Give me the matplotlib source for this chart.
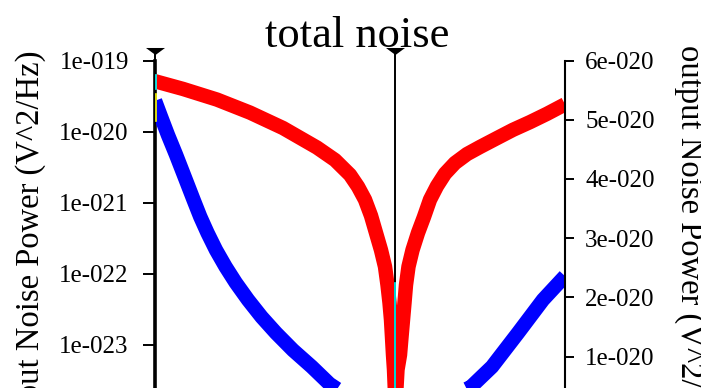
import numpy as np
import matplotlib
matplotlib.use('Agg')
import matplotlib.pyplot as plt
from matplotlib.lines import Line2D
from matplotlib.transforms import IdentityTransform, blended_transform_factory
from matplotlib.ticker import FuncFormatter, NullLocator

# frequency (kHz) and output noise power in units of 1e-20 V^2/Hz
f_red = [0, 2.8, 6.2, 9.5, 12.8, 16.2, 18.0, 19.5, 20.3, 21.0,
         21.6, 22.1, 22.6, 23.0, 23.25, 23.45, 23.6, 23.7, 23.8, 23.9,
         24.05,
         24.25, 24.5, 24.65, 24.8, 24.95, 25.1, 25.35, 25.75, 26.3, 26.9,
         27.5, 28.2, 29.0, 30.0, 31.2, 32.5, 34.2, 35.8, 37.5, 39.2,
         41.0]
p_red = [5.65, 5.52, 5.34, 5.12, 4.86, 4.53, 4.32, 4.07, 3.87, 3.65,
         3.38, 3.09, 2.80, 2.52, 2.21, 1.91, 1.62, 1.33, 1.03, 0.78,
         0.18,
         0.78, 1.03, 1.33, 1.62, 1.91, 2.21, 2.52, 2.80, 3.09, 3.36,
         3.65, 3.88, 4.09, 4.27, 4.42, 4.54, 4.69, 4.83, 4.96, 5.10,
         5.26]

f_blue = [0, 0.6, 1.3, 2.1, 3.0, 3.85, 4.53, 5.25, 6.1, 7.05,
          8.07, 9.3, 10.66, 12.1, 13.8, 15.67, 17.45, 19.86, 24.0, 28.5,
          31.6, 33.7, 36.3, 38.8, 41.0]
p_blue = [5.32, 5.05, 4.74, 4.41, 4.02, 3.65, 3.36, 3.09, 2.80, 2.52,
          2.25, 1.96, 1.67, 1.40, 1.11, 0.83, 0.54, 0.27, 0.07, 0.23,
          0.49, 0.83, 1.40, 1.96, 2.36]

cursors = [0.0, 23.95]
f_range = (0, 41)

left_ticks = [1e-24, 1e-23, 1e-22, 1e-21, 1e-20, 1e-19]
right_ticks = [0, 1e-20, 2e-20, 3e-20, 4e-20, 5e-20, 6e-20]

SERIF = 'Liberation Serif'
W, H = 701, 388
LW = 10.4  # trace width in points


def sci_label(v, pos=None):
    if v == 0:
        return '0'
    m, e = ('%.0e' % v).split('e')
    return '%se%+04d' % (m, int(e))


def xor_marks(ax, xc, f, p, color, half_px):
    # recolour the part of a cursor line that runs over a thick trace
    pts = ax.transData.transform(np.column_stack([f, p]))
    dense = []
    for (x0, y0), (x1, y1) in zip(pts[:-1], pts[1:]):
        n = max(int(np.hypot(x1 - x0, y1 - y0) * 4), 1)
        t = np.linspace(0, 1, n, endpoint=False)
        dense.append(np.column_stack([x0 + (x1 - x0) * t, y0 + (y1 - y0) * t]))
    dense.append(pts[-1:])
    dense = np.vstack(dense)
    cx = ax.transData.transform((xc, 0))[0]
    ys = np.arange(0, H, 0.5)
    d = np.hypot(dense[None, :, 0] - cx, dense[None, :, 1] - ys[:, None]).min(axis=1)
    inside = d <= half_px
    edges = np.flatnonzero(np.diff(np.r_[0, inside.astype(int), 0]))
    for a, b in zip(edges[::2], edges[1::2]):
        ax.add_line(Line2D([cx + 0.5, cx + 0.5], [ys[a], ys[b - 1]], color=color, lw=1.2,
                           transform=IdentityTransform(), clip_on=False, zorder=6))


fig = plt.figure(figsize=(W / 100, H / 100), dpi=100)
top_px, bot_px, left_px, right_px = 60.5, 415.9, 155, 565
ax = fig.add_axes([left_px / W, 1 - bot_px / H, (right_px - left_px) / W, (bot_px - top_px) / H])
ax.set_yscale('log')
ax.set_ylim(1e-24, 1e-19)
ax.set_xlim(*f_range)
ax.set_xticks([])
ax.set_yticks(left_ticks)
ax.yaxis.set_minor_locator(NullLocator())
ax.yaxis.set_major_formatter(FuncFormatter(sci_label))
ax.tick_params(axis='y', direction='out', length=8.4, width=1.4, pad=10.5, labelsize=18)
for lab in ax.get_yticklabels():
    lab.set_family(SERIF)
for s in ['top', 'bottom', 'right']:
    ax.spines[s].set_visible(False)
ax.spines['left'].set_linewidth(2.6)

ax2 = ax.twinx()
ax2.set_ylim(0, 6e-20)
ax2.set_xlim(*f_range)
ax2.set_yticks(right_ticks)
ax2.yaxis.set_major_formatter(FuncFormatter(sci_label))
ax2.tick_params(axis='y', direction='out', length=6.5, width=1.4, pad=8, labelsize=18)
for lab in ax2.get_yticklabels():
    lab.set_family(SERIF)
for s in ['top', 'bottom', 'left']:
    ax2.spines[s].set_visible(False)
ax2.spines['right'].set_linewidth(1.5)

ax2.plot(f_red, np.array(p_red) * 1e-20, color='#ff0000', lw=LW,
         solid_joinstyle='round', solid_capstyle='butt')
ax2.plot(f_blue, np.array(p_blue) * 1e-20, color='#0000ff', lw=LW,
         solid_joinstyle='round', solid_capstyle='butt')

# cursors with flat triangle heads above the plot
bt = blended_transform_factory(ax2.transData, IdentityTransform())
tri = [(-1, 0.37), (1, 0.37), (0, -0.37), (-1, 0.37)]
half = LW * 100 / 72 / 2
for xc in cursors:
    ax2.plot([xc, xc], [H - 420, H - 54], transform=bt, color='k', lw=1.4,
             clip_on=False, zorder=5)
    ax2.plot([xc], [H - 51.3], transform=bt, marker=tri, ms=13.7, color='k',
             mew=0, clip_on=False, zorder=5)
    xor_marks(ax2, xc, f_red, np.array(p_red) * 1e-20, '#00ffff', half)
    xor_marks(ax2, xc, f_blue, np.array(p_blue) * 1e-20, '#ffff00', half)

fig.text(357.5 / W, 1 - 47 / H, 'total noise', ha='center', va='baseline',
         fontsize=32, family=SERIF)
fig.text(30.5 / W, 1 - 50 / H, 'output Noise Power (V^2/Hz)', rotation=90,
         ha='center', va='top', fontsize=23.5, family=SERIF)
fig.text(689 / W, 1 - 45 / H, 'output Noise Power (V^2/Hz)', rotation=-90,
         ha='center', va='top', fontsize=23.5, family=SERIF)

fig.savefig('out.png', dpi=100)
